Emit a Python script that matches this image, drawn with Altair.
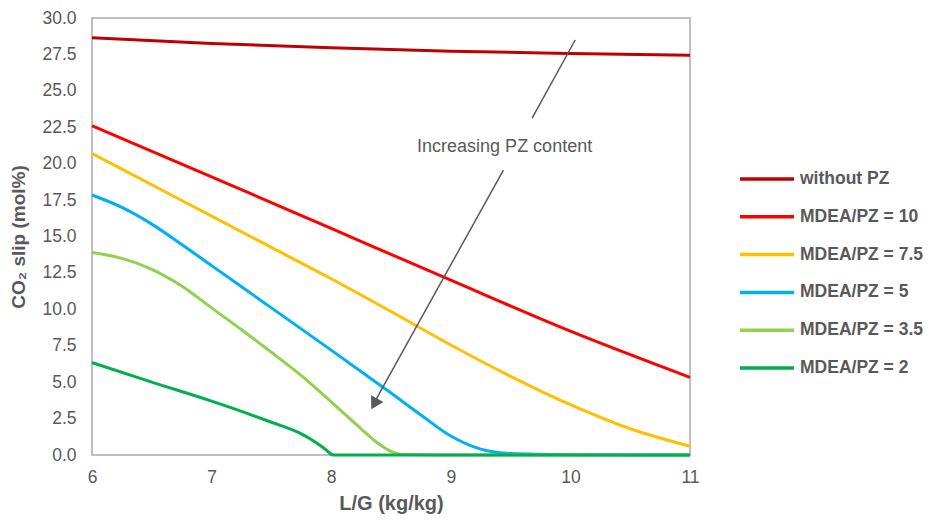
import altair as alt
import pandas as pd

series_names = ["without PZ", "MDEA/PZ = 10", "MDEA/PZ = 7.5", "MDEA/PZ = 5", "MDEA/PZ = 3.5", "MDEA/PZ = 2"]
series_colors = ["#C00000", "#FF0000", "#FFC000", "#00B0F0", "#92D050", "#00B050"]

x_without = [6, 7, 8, 9, 10, 11]
y_without = [28.65, 28.25, 27.95, 27.72, 27.57, 27.45]

x_r10 = [6, 7, 8, 9, 10, 11]
y_r10 = [22.6, 19.1, 15.55, 12.0, 8.5, 5.33]

x_r75 = [6, 6.5, 7, 7.5, 8, 8.5, 9, 9.5, 10, 10.5, 11]
y_r75 = [20.7, 18.55, 16.4, 14.25, 12.1, 9.85, 7.55, 5.4, 3.45, 1.8, 0.6]

x_r5 = [6, 6.25, 6.5, 6.75, 7, 7.5, 8, 8.5, 8.75, 9, 9.25, 9.5, 10, 10.5, 11]
y_r5 = [17.85, 17.0, 15.85, 14.45, 13.0, 10.1, 7.2, 4.25, 2.75, 1.3, 0.4, 0.1, 0.02, 0, 0]

x_r35 = [6, 6.25, 6.5, 6.75, 7, 7.25, 7.5, 7.75, 8, 8.25, 8.4, 8.5, 8.6, 9, 10, 11]
y_r35 = [13.9, 13.5, 12.75, 11.6, 10.1, 8.6, 7.05, 5.45, 3.65, 1.8, 0.75, 0.25, 0.03, 0, 0, 0]

x_r2 = [6, 6.5, 7, 7.5, 7.75, 7.85, 7.95, 8.02, 9, 10, 11]
y_r2 = [6.34, 5.0, 3.7, 2.25, 1.45, 0.98, 0.4, 0, 0, 0, 0]

# annotation arrow (data coordinates)
arrow_x1 = [10.04, 9.44]
arrow_y1 = [28.49, 19.56]
arrow_x2 = [9.68, 8.36]
arrow_y2 = [23.13, 3.6]
head_x = [8.36]
head_y = [3.5]
note_x = [9.45]
note_y = [21.14]
note_text = ["Increasing PZ content"]

x_ticks = [6, 7, 8, 9, 10, 11]
y_ticks = [0, 2.5, 5, 7.5, 10, 12.5, 15, 17.5, 20, 22.5, 25, 27.5, 30]

rows = []
for name, xs, ys in zip(series_names,
                        [x_without, x_r10, x_r75, x_r5, x_r35, x_r2],
                        [y_without, y_r10, y_r75, y_r5, y_r35, y_r2]):
    for i, (a, b) in enumerate(zip(xs, ys)):
        rows.append({"series": name, "x": a, "y": b, "i": i})
df = pd.DataFrame(rows)

FONT = "Liberation Sans"
GREY = "#595959"

xscale = alt.Scale(domain=[6, 11], nice=False, zero=False)
yscale = alt.Scale(domain=[0, 30], nice=False)
xaxis = alt.Axis(values=x_ticks, title="L/G (kg/kg)", format="d",
                 labelPadding=13, titlePadding=8, labelFlush=False,
                 labelOverlap=False, titleFontSize=20)
yaxis = alt.Axis(values=y_ticks, title="CO\u2082 slip (mol%)", format=".1f",
                 labelPadding=16, titlePadding=13, labelFlush=False,
                 labelOverlap=False, titleFontSize=19)


def X(field):
    return alt.X(field, scale=xscale, axis=xaxis)


def Y(field):
    return alt.Y(field, scale=yscale, axis=yaxis)


lines = alt.Chart(df).mark_line(strokeWidth=3, interpolate="monotone").encode(
    x=X("x:Q"),
    y=Y("y:Q"),
    color=alt.Color("series:N",
                    scale=alt.Scale(domain=series_names, range=series_colors),
                    sort=series_names,
                    legend=alt.Legend(title=None, orient="none", legendX=664, legendY=150,
                                      symbolType="M-3,0H3", symbolSize=324,
                                      symbolStrokeWidth=3.5, labelFontSize=17.5,
                                      labelFontWeight="bold", labelColor=GREY,
                                      labelFont=FONT, rowPadding=17.8,
                                      labelOffset=22, padding=0)),
    order=alt.Order("i:Q"),
)

arrow_df = pd.DataFrame({"x1": arrow_x1, "y1": arrow_y1, "x2": arrow_x2, "y2": arrow_y2})
arrows = alt.Chart(arrow_df).mark_rule(color=GREY, strokeWidth=1.5).encode(
    x=X("x1:Q"), y=Y("y1:Q"), x2="x2:Q", y2="y2:Q")

head = alt.Chart(pd.DataFrame({"x": head_x, "y": head_y})).mark_point(
    shape="triangle-up", angle=209, size=200, filled=True, color=GREY, opacity=1
).encode(x=X("x:Q"), y=Y("y:Q"))

note = alt.Chart(pd.DataFrame({"x": note_x, "y": note_y, "t": note_text})).mark_text(
    font=FONT, fontSize=18, color=GREY, align="center", baseline="middle"
).encode(x=X("x:Q"), y=Y("y:Q"), text="t:N")

chart = alt.layer(lines, arrows, head, note).properties(
    width=598, height=437,
    autosize=alt.AutoSizeParams(type="none"),
    padding={"left": 92, "top": 18, "right": 242, "bottom": 65},
).configure_view(
    stroke="#BFBFBF", strokeWidth=2
).configure_axis(
    domain=False, ticks=False, grid=False,
    labelFont=FONT, labelFontSize=17.5, labelColor=GREY,
    titleFont=FONT, titleFontWeight="bold", titleColor=GREY,
)

chart.save("out.html", embed_options={"renderer": "svg", "actions": False})
